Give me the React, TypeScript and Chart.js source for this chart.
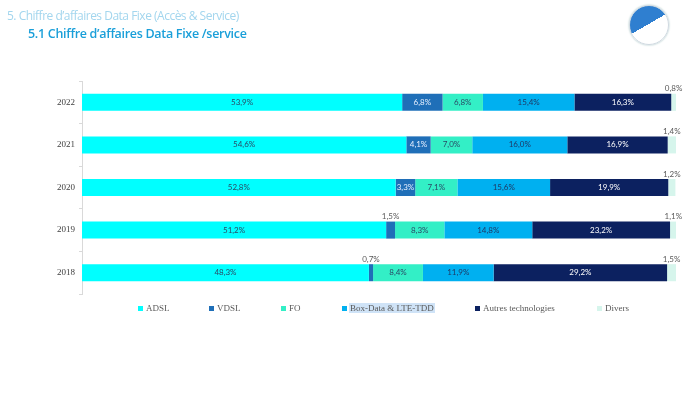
import React, { useEffect, useRef } from "react";
import { Chart, registerables } from "chart.js";

Chart.register(...registerables);

const years = ["2022", "2021", "2020", "2019", "2018"];
const adsl = [53.9, 54.6, 52.8, 51.2, 48.3];
const vdsl = [6.8, 4.1, 3.3, 1.5, 0.7];
const fo = [6.8, 7.0, 7.1, 8.3, 8.4];
const boxData = [15.4, 16.0, 15.6, 14.8, 11.9];
const autres = [16.3, 16.9, 19.9, 23.2, 29.2];
const divers = [0.8, 1.4, 1.2, 1.1, 1.5];

const seriesNames = ["ADSL", "VDSL", "FO", "Box-Data & LTE-TDD", "Autres technologies", "Divers"];
const seriesColors = ["#00FFFF", "#1F6FB8", "#33EFC6", "#00B0F0", "#0C2160", "#D6F5EC"];
const labelColors = ["#2A4A66", "#E8F0FF", "#2A4A66", "#1F3864", "#FFFFFF", "#595959"];

const legendX = [138, 209, 281, 342, 475, 597];

const labelPlugin = {
  id: "segLabels",
  afterDatasetsDraw(chart: any) {
    const ctx = chart.ctx;
    ctx.save();
    ctx.font = "8px Lato";
    ctx.textAlign = "center";
    ctx.textBaseline = "middle";
    chart.data.datasets.forEach((ds: any, di: number) => {
      const meta = chart.getDatasetMeta(di);
      meta.data.forEach((el: any, i: number) => {
        const v = ds.data[i];
        const txt = v.toFixed(1).replace(".", ",") + "%";
        const cx = (el.x + el.base) / 2;
        if (v < 2) {
          ctx.fillStyle = "#595959";
          ctx.fillText(txt, cx, el.y - el.height / 2 - 5);
        } else {
          ctx.fillStyle = labelColors[di];
          ctx.fillText(txt, cx, el.y);
        }
      });
    });
    ctx.restore();
  },
};

export default function App() {
  const ref = useRef<HTMLCanvasElement | null>(null);
  useEffect(() => {
    if (!ref.current) return;
    const all = [adsl, vdsl, fo, boxData, autres, divers];
    const chart = new Chart(ref.current, {
      type: "bar",
      data: {
        labels: years,
        datasets: all.map((d, i) => ({
          label: seriesNames[i],
          data: d,
          backgroundColor: seriesColors[i],
          borderWidth: 0,
          categoryPercentage: 1,
          barPercentage: 0.4,
        })),
      },
      options: {
        indexAxis: "y",
        responsive: false,
        animation: false,
        layout: { padding: { left: 0, top: 81, right: 24, bottom: 99 } },
        plugins: { legend: { display: false }, tooltip: { enabled: false } },
        scales: {
          x: { stacked: true, min: 0, max: 100, display: false },
          y: {
            stacked: true,
            grid: {
              display: true,
              drawOnChartArea: false,
              drawTicks: true,
              tickLength: 3,
              color: "#D9D9D9",
              offset: true,
            },
            border: { display: true, color: "#D9D9D9" },
            ticks: { font: { family: "Liberation Serif", size: 9 }, color: "#404040", padding: 4 },
            afterFit: (s: any) => {
              s.width = 82;
            },
          },
        },
      },
      plugins: [labelPlugin],
    } as any);
    return () => chart.destroy();
  }, []);

  return (
    <div style={{ position: "absolute", left: 0, top: 0, width: 700, height: 393, background: "#fff", overflow: "hidden" }}>
      <canvas ref={ref} width={700} height={393} style={{ position: "absolute", left: 0, top: 0, width: 700, height: 393 }} />
      <div style={{ position: "absolute", left: 7, top: 7, fontFamily: "Open Sans", fontSize: 12, color: "#A3D6EE", whiteSpace: "nowrap", letterSpacing: -0.5 }}>
        5. Chiffre d’affaires Data Fixe (Accès &amp; Service)
      </div>
      <div style={{ position: "absolute", left: 28, top: 25, fontFamily: "Open Sans", fontSize: 12.5, fontWeight: 600, color: "#1A9FD9", whiteSpace: "nowrap", letterSpacing: -0.3 }}>
        5.1 Chiffre d’affaires Data Fixe /service
      </div>
      <div style={{ position: "absolute", left: 629, top: 5, width: 38, height: 38, borderRadius: "50%", background: "linear-gradient(150deg, #2F7FD0 0%, #2F7FD0 48%, #FFFFFF 48%, #FFFFFF 100%)", boxShadow: "0 0 2px #9bb", border: "1px solid #cfd8e0" }} />
      {seriesNames.map((n, i) => (
        <div key={n} style={{ position: "absolute", left: legendX[i], top: 302, height: 12, display: "flex", alignItems: "center", whiteSpace: "nowrap" }}>
          <span style={{ display: "inline-block", width: 5, height: 5, background: seriesColors[i], marginRight: 2 }} />
          <span style={{ fontFamily: "Liberation Serif", fontSize: 9, color: "#595959", background: i === 3 ? "#CFE3F7" : "transparent", padding: "0 1px" }}>{n}</span>
        </div>
      ))}
    </div>
  );
}
